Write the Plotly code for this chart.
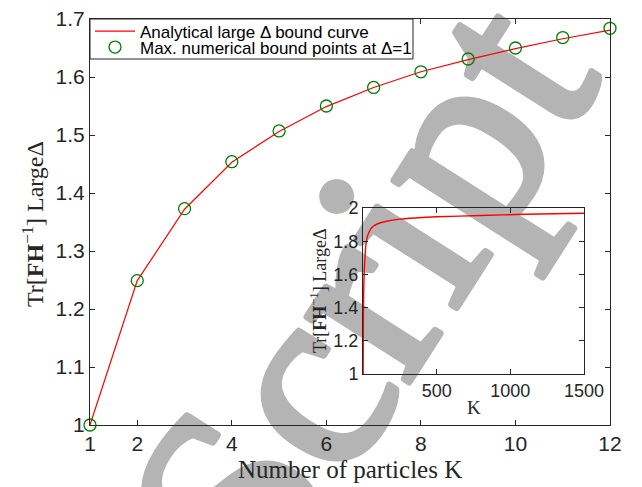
import base64
import math
import plotly.graph_objects as go

# ---------------- data ----------------
k_points = [1, 2, 3, 4, 5, 6, 7, 8, 9, 10, 11, 12]
bound_points = [1.0, 1.249, 1.373, 1.454, 1.507, 1.550, 1.582, 1.609, 1.631, 1.650, 1.668, 1.684]
k_curve = [1, 2, 3, 4, 5, 6, 7, 8, 9, 10, 11, 12]
bound_curve = [1.0, 1.249, 1.372, 1.453, 1.506, 1.549, 1.582, 1.609, 1.630, 1.649, 1.666, 1.681]

k_inset = [1, 2, 3, 4, 6, 8, 12, 20, 30, 50, 70, 100, 160, 250, 350, 500, 800, 1100, 1500]
bound_inset = [1.0, 1.25, 1.372, 1.453, 1.55, 1.61, 1.683, 1.78, 1.83, 1.87, 1.89, 1.905,
               1.92, 1.933, 1.94, 1.947, 1.955, 1.962, 1.968]

main_xticks = [1, 2, 4, 6, 8, 10, 12]
main_yticks = [1.0, 1.1, 1.2, 1.3, 1.4, 1.5, 1.6, 1.7]
main_yticklabels = ["1", "1.1", "1.2", "1.3", "1.4", "1.5", "1.6", "1.7"]
inset_xticks = [500, 1000, 1500]
inset_yticks = [1.0, 1.2, 1.4, 1.6, 1.8, 2.0]
inset_yticklabels = ["1", "1.2", "1.4", "1.6", "1.8", "2"]

# ---------------- layout geometry ----------------
W, H = 642, 487
OFF = 8  # page body margin
ML, MT = 90 - OFF, 19 - OFF
PW, PH = 520, 406
MR, MB = W - ML - PW, H - MT - PH

def px_x(p):
    return (p - OFF - ML) / PW

def px_y(p):
    return (H - MB - (p - OFF)) / PH

AX = "#262626"
SANS = "Liberation Sans, Arial, sans-serif"
SERIF = "Liberation Serif, Times New Roman, serif"

fig = go.Figure()

fig.add_trace(go.Scatter(
    x=k_curve, y=bound_curve, mode="lines",
    line=dict(color="#ff0000", width=1.2),
    name="Analytical large \u0394 bound curve",
    xaxis="x", yaxis="y", cliponaxis=False, legend="legend",
))
fig.add_trace(go.Scatter(
    x=k_points, y=bound_points, mode="markers",
    marker=dict(symbol="circle-open", size=12, color="#008000", line=dict(width=1.3, color="#008000")),
    name="Max. numerical bound points at \u0394=1",
    xaxis="x", yaxis="y", cliponaxis=False, legend="legend2",
))
fig.add_trace(go.Scatter(
    x=k_inset, y=bound_inset, mode="lines",
    line=dict(color="#ff0000", width=1.4, shape="spline", smoothing=0.6),
    showlegend=False, xaxis="x2", yaxis="y2",
))

axis_common = dict(
    showline=True, linecolor=AX, linewidth=1, mirror="ticks",
    ticks="inside", tickcolor=AX, ticklen=5, tickwidth=1,
    showgrid=False, zeroline=False, ticklabeloverflow="allow",
)

ix0, ix1 = px_x(363), px_x(584)
iy0, iy1 = px_y(374), px_y(208)

leg_common = dict(x=px_x(90), xanchor="left", yanchor="middle",
                  bgcolor="rgba(0,0,0,0)", borderwidth=0,
                  font=dict(family=SANS, size=17, color="black"), itemwidth=40)

fig.update_layout(
    width=W, height=H,
    margin=dict(l=ML, r=MR, t=MT, b=MB, autoexpand=False),
    paper_bgcolor="white",
    plot_bgcolor="rgba(0,0,0,0)",
    xaxis=dict(domain=[0, 1], range=[1, 12], tickvals=main_xticks,
               tickfont=dict(family=SANS, size=21, color=AX), **axis_common),
    yaxis=dict(domain=[0, 1], range=[1, 1.7], tickvals=main_yticks, ticktext=main_yticklabels,
               tickfont=dict(family=SANS, size=21, color=AX), **axis_common),
    xaxis2=dict(domain=[ix0, ix1], range=[0, 1500], tickvals=inset_xticks, anchor="y2",
                tickfont=dict(family=SANS, size=18, color=AX), **axis_common),
    yaxis2=dict(domain=[iy0, iy1], range=[1, 2], tickvals=inset_yticks, ticktext=inset_yticklabels,
                anchor="x2", tickfont=dict(family=SANS, size=18, color=AX), **axis_common),
    legend=dict(y=px_y(31.5), **leg_common),
    legend2=dict(y=px_y(47.5), **leg_common),
    showlegend=True,
)

# legend frame
fig.add_shape(type="rect", xref="paper", yref="paper",
              x0=px_x(90), x1=px_x(413), y0=px_y(59), y1=px_y(19),
              line=dict(color=AX, width=1), fillcolor="white", layer="above")

ylabel = "Tr[<b>FH</b><sup>\u22121</sup>] Large\u0394"
fig.add_annotation(text=ylabel, xref="paper", yref="paper", x=px_x(33), y=px_y(224),
                   textangle=-90, showarrow=False, xanchor="center", yanchor="middle",
                   font=dict(family=SERIF, size=24, color=AX))
fig.add_annotation(text="Number of particles K", xref="paper", yref="paper", x=px_x(350), y=px_y(469),
                   showarrow=False, xanchor="center", yanchor="middle",
                   font=dict(family=SERIF, size=25, color=AX))
fig.add_annotation(text=ylabel, xref="paper", yref="paper", x=px_x(318), y=px_y(291),
                   textangle=-90, showarrow=False, xanchor="center", yanchor="middle",
                   font=dict(family=SERIF, size=18, color=AX))
fig.add_annotation(text="K", xref="paper", yref="paper", x=px_x(473.5), y=px_y(407),
                   showarrow=False, xanchor="center", yanchor="middle",
                   font=dict(family=SERIF, size=19, color=AX))

# ---------------- watermark (drawn beneath the plot) ----------------
theta = 57.5
F = 264.0
tr = math.radians(theta)
u = (math.cos(tr), -math.sin(tr))
v = (-math.sin(tr), -math.cos(tr))
dot = (333.0 - OFF, 192.0 - OFF)
bx = dot[0] - 1.472 * F * u[0] - 0.63 * F * v[0]
by = dot[1] - 1.472 * F * u[1] - 0.63 * F * v[1]
svg = (
    f'<svg xmlns="http://www.w3.org/2000/svg" width="{W}" height="{H}" viewBox="0 0 {W} {H}">'
    f'<text x="{bx:.1f}" y="{by:.1f}" transform="rotate({-theta:.1f} {bx:.1f} {by:.1f})" '
    f'font-family="Liberation Serif, Times New Roman, serif" font-size="{F:.0f}" '
    f'fill="#b4b4b4" stroke="#b4b4b4" stroke-width="7" stroke-linejoin="round">Script</text>'
    f'</svg>'
)
src = "data:image/svg+xml;base64," + base64.b64encode(svg.encode()).decode()
fig.add_layout_image(dict(
    source=src, xref="paper", yref="paper",
    x=-ML / PW, y=1 + MT / PH, sizex=W / PW, sizey=H / PH,
    xanchor="left", yanchor="top", sizing="stretch", layer="below",
))

fig.write_html("out.html")
